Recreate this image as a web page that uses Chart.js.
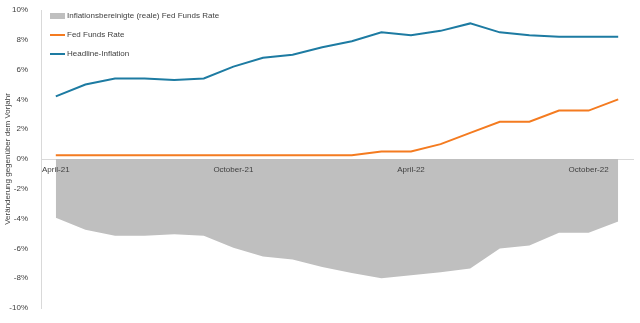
<!DOCTYPE html>
<html>
<head>
<meta charset="utf-8">
<script src="https://cdn.jsdelivr.net/npm/chart.js@4"></script>
<style>
  html, body { margin: 0; padding: 0; background: #fff; }
  #wrap { width: 640px; height: 323px; position: relative; }
</style>
</head>
<body>
<div id="wrap"><canvas id="chart"></canvas></div>
<script>
"use strict";

// monthly, April-21 .. November-22
const months = [
  "April-21", "May-21", "June-21", "July-21", "August-21", "September-21",
  "October-21", "November-21", "December-21", "January-22", "February-22", "March-22",
  "April-22", "May-22", "June-22", "July-22", "August-22", "September-22",
  "October-22", "November-22",
];
const headline = [4.2, 5.0, 5.4, 5.4, 5.3, 5.4, 6.2, 6.8, 7.0, 7.5, 7.9, 8.5,
                  8.3, 8.6, 9.1, 8.5, 8.3, 8.2, 8.2, 8.2];
const fedFunds = [0.25, 0.25, 0.25, 0.25, 0.25, 0.25, 0.25, 0.25, 0.25, 0.25, 0.25, 0.5,
                  0.5, 1.0, 1.75, 2.5, 2.5, 3.25, 3.25, 4.0];
const realRate = [-3.95, -4.75, -5.15, -5.15, -5.05, -5.15, -5.95, -6.55, -6.75, -7.25, -7.65, -8.0,
                  -7.8, -7.6, -7.35, -6.0, -5.8, -4.95, -4.95, -4.2];

const FONT = "'Liberation Sans', sans-serif";
const TXT = "#404040";
const AXIS = "#d9d9d9";

// legend sits inside the plot, top-left
const innerLegend = {
  id: "innerLegend",
  afterDraw(chart) {
    const ctx = chart.ctx;
    const x = 50, rows = [16, 35, 54];
    ctx.save();
    ctx.font = "8px " + FONT;
    ctx.textBaseline = "middle";
    chart.data.datasets.forEach((ds, i) => {
      const y = rows[i];
      if (ds.fill) {
        ctx.fillStyle = ds.backgroundColor;
        ctx.fillRect(x, y - 3, 15, 6);
      } else {
        ctx.strokeStyle = ds.borderColor;
        ctx.lineWidth = 2;
        ctx.beginPath();
        ctx.moveTo(x, y);
        ctx.lineTo(x + 15, y);
        ctx.stroke();
      }
      ctx.fillStyle = TXT;
      ctx.fillText(ds.label, x + 17, y);
    });
    ctx.restore();
  },
};

new Chart(document.getElementById("chart"), {
  type: "line",
  data: {
    labels: months,
    datasets: [
      {
        label: "Inflationsbereinigte (reale) Fed Funds Rate",
        data: realRate,
        fill: "origin",
        backgroundColor: "#bfbfbf",
        borderWidth: 0,
        pointRadius: 0,
        order: 3,
      },
      {
        label: "Fed Funds Rate",
        data: fedFunds,
        borderColor: "#f47b20",
        borderWidth: 2,
        pointRadius: 0,
        fill: false,
        order: 2,
      },
      {
        label: "Headline-Inflation",
        data: headline,
        borderColor: "#1d7ba2",
        borderWidth: 2,
        pointRadius: 0,
        fill: false,
        order: 1,
      },
    ],
  },
  options: {
    responsive: true, maintainAspectRatio: false, animation: false,
    layout: { padding: { top: 10, bottom: 15, right: 7, left: 0 } },
    plugins: { legend: { display: false }, tooltip: { enabled: false } },
    scales: {
      x: {
        position: { y: 0 },
        offset: true,
        grid: { display: false, drawTicks: false },
        border: { display: true, color: AXIS, width: 1 },
        ticks: {
          z: 1,
          autoSkip: false,
          maxRotation: 0,
          padding: 6,
          color: TXT,
          font: { family: FONT, size: 8 },
          callback: (v, i) => (i % 6 === 0 ? months[i] : ""),
        },
      },
      y: {
        min: -10, max: 10,
        grid: { display: false },
        border: { display: true, color: AXIS, width: 1 },
        afterFit: (s) => { s.width = 41; },
        title: {
          display: true,
          text: "Veränderung gegenüber dem Vorjahr",
          color: TXT,
          padding: { top: 3, bottom: 0 },
          font: { family: FONT, size: 8 },
        },
        ticks: {
          stepSize: 2,
          padding: 5,
          color: TXT,
          font: { family: FONT, size: 8 },
          callback: (v) => v + "%",
        },
      },
    },
  },
  plugins: [innerLegend],
});
</script>
</body>
</html>
